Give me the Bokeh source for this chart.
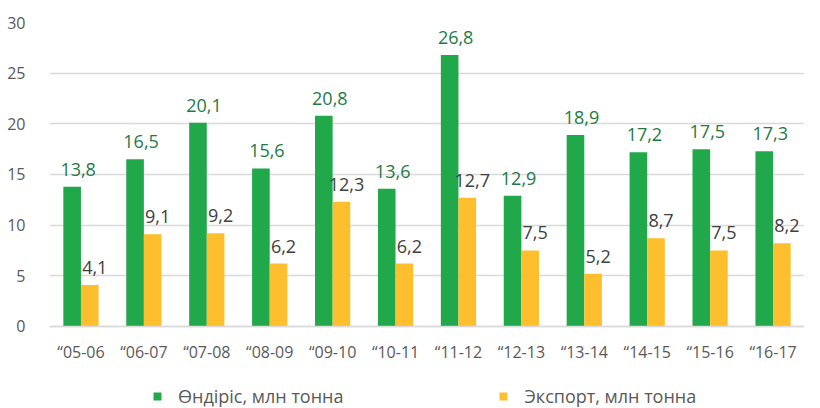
from bokeh.plotting import figure
from bokeh.models import ColumnDataSource, FactorRange, Range1d, Legend, LegendItem, LabelSet
from bokeh.transform import dodge
from bokeh.core.properties import value
from bokeh.embed import file_html
from bokeh.resources import INLINE

categories = ["\u201c05-06", "\u201c06-07", "\u201c07-08", "\u201c08-09", "\u201c09-10", "\u201c10-11",
              "\u201c11-12", "\u201c12-13", "\u201c13-14", "\u201c14-15", "\u201c15-16", "\u201c16-17"]
production = [13.8, 16.5, 20.1, 15.6, 20.8, 13.6, 26.8, 12.9, 18.9, 17.2, 17.5, 17.3]
export = [4.1, 9.1, 9.2, 6.2, 12.3, 6.2, 12.7, 7.5, 5.2, 8.7, 7.5, 8.2]
series_names = ["Өндіріс, млн тонна", "Экспорт, млн тонна"]
y_ticks = [0, 5, 10, 15, 20, 25, 30]

GREEN = "#20A84A"
YELLOW = "#FDBF2D"
FONT = "Open Sans"

src = ColumnDataSource(dict(
    cat=categories, prod=production, exp=export,
    prod_lbl=[f"{v:.1f}".replace(".", ",") for v in production],
    exp_lbl=[f"{v:.1f}".replace(".", ",") for v in export],
))

p = figure(frame_width=755, frame_height=386, x_range=FactorRange(*categories), y_range=Range1d(-8.1, 30),
           output_backend="svg", toolbar_location=None,
           min_border_left=49, min_border_right=0, min_border_top=22, min_border_bottom=0)
p.outline_line_color = None
p.background_fill_color = "white"
p.border_fill_color = "white"

r1 = p.vbar(x=dodge("cat", -0.14, range=p.x_range), top="prod", width=0.28, source=src,
            fill_color=GREEN, line_color=None)
r2 = p.vbar(x=dodge("cat", 0.14, range=p.x_range), top="exp", width=0.28, source=src,
            fill_color=YELLOW, line_color=None)

lab1 = LabelSet(x=dodge("cat", -0.14, range=p.x_range), y="prod", text="prod_lbl", source=src,
                text_align="center", text_baseline="bottom", y_offset=11, x_offset=6,
                text_font=value(FONT), text_font_size="18px", text_color="#1E7A46")
lab2 = LabelSet(x=dodge("cat", 0.14, range=p.x_range), y="exp", text="exp_lbl", source=src,
                text_align="center", text_baseline="bottom", y_offset=11, x_offset=5,
                text_font=value(FONT), text_font_size="18px", text_color="#404040")
p.add_layout(lab1)
p.add_layout(lab2)

p.xgrid.grid_line_color = None
p.ygrid.grid_line_color = "#D9D9D9"
p.ygrid.grid_line_width = 1.5
p.yaxis.ticker = y_ticks
p.ygrid.ticker = y_ticks
p.yaxis.axis_line_color = None
p.yaxis.major_tick_line_color = None
p.yaxis.minor_tick_line_color = None
p.yaxis.major_label_standoff = 18
p.xaxis.fixed_location = 0
p.xaxis.axis_line_color = "#D9D9D9"
p.xaxis.axis_line_width = 1.5
p.xaxis.major_tick_line_color = None
p.xaxis.minor_tick_line_color = None
p.xaxis.major_label_standoff = 9
for ax in (p.xaxis, p.yaxis):
    ax.major_label_text_font = FONT
    ax.major_label_text_font_size = "16px"
    ax.major_label_text_color = "#595959"
p.x_range.range_padding = 0
p.x_range.group_padding = 0

legend = Legend(items=[LegendItem(label=series_names[0], renderers=[r1]),
                       LegendItem(label=series_names[1], renderers=[r2])],
                orientation="horizontal", location=(103, 0),
                label_text_font=FONT, label_text_font_size="18px", label_text_color="#595959",
                glyph_width=10, glyph_height=10, label_standoff=16, spacing=155,
                border_line_color=None, background_fill_alpha=0, padding=0, margin=0)
p.add_layout(legend, "center")

open("out.html", "w").write(file_html(p, INLINE))
